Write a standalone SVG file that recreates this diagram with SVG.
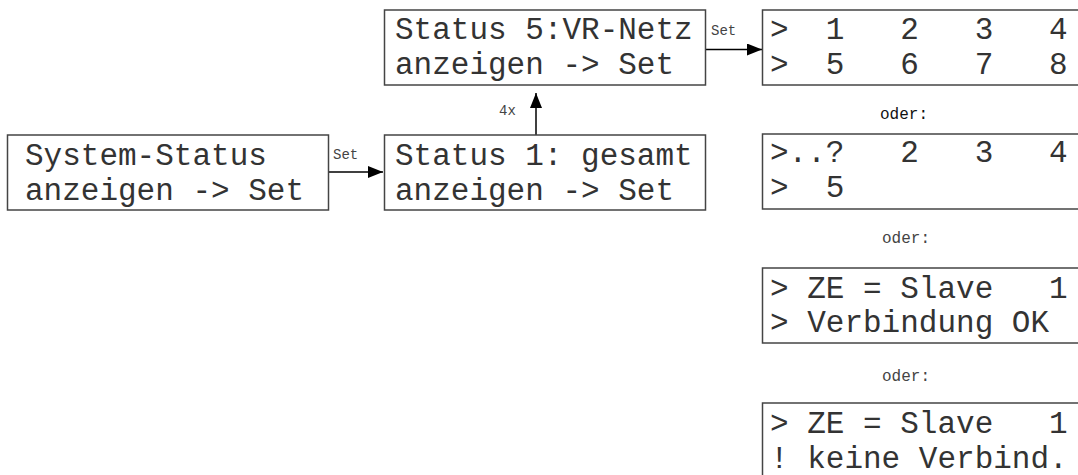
<svg xmlns="http://www.w3.org/2000/svg" width="1078" height="475" viewBox="0 0 1078 475">
<defs>
<marker id="ah" markerUnits="userSpaceOnUse" markerWidth="16" markerHeight="12" refX="15" refY="6" orient="auto">
<polygon points="0,0 15,6 0,12" fill="#000"/>
</marker>
<style>
.box{fill:#fff;stroke:#444;stroke-width:1.5}
.t{font-family:"Liberation Mono","Courier New",monospace;font-size:31px;fill:#333;white-space:pre}
.s{font-family:"Liberation Mono","Courier New",monospace;font-size:14px;fill:#444;white-space:pre}
.o{font-family:"Liberation Mono","Courier New",monospace;font-size:16px;fill:#444;white-space:pre}
.c{stroke:#000;stroke-width:1.5;fill:none;marker-end:url(#ah)}
</style>
</defs>
<rect width="1078" height="475" fill="#fff"/>
<g id="connectors">
<line class="c" x1="328" y1="172" x2="383" y2="172"/>
<text class="s" x="333" y="159">Set</text>
<line class="c" x1="536" y1="135" x2="536" y2="93"/>
<text class="s" x="499" y="115">4x</text>
<line class="c" x1="706" y1="49.5" x2="762" y2="49.5"/>
<text class="s" x="711" y="35">Set</text>
</g>
<g id="n1">
<rect class="box" x="7.5" y="135" width="321" height="75"/>
<text class="t" x="25" y="165" xml:space="preserve">System-Status</text>
<text class="t" x="25" y="200" xml:space="preserve">anzeigen -&gt; Set</text>
</g>
<g id="n2">
<rect class="box" x="384.5" y="135" width="321" height="75"/>
<text class="t" x="395" y="165" xml:space="preserve">Status 1: gesamt</text>
<text class="t" x="395" y="200" xml:space="preserve">anzeigen -&gt; Set</text>
</g>
<g id="n3">
<rect class="box" x="384.5" y="10" width="321" height="75"/>
<text class="t" x="395" y="39" xml:space="preserve">Status 5:VR-Netz</text>
<text class="t" x="395" y="74" xml:space="preserve">anzeigen -&gt; Set</text>
</g>
<g id="n4">
<rect class="box" x="762.5" y="10" width="340" height="75"/>
<text class="t" x="770" y="39" xml:space="preserve">&gt;  1   2   3   4</text>
<text class="t" x="770" y="74" xml:space="preserve">&gt;  5   6   7   8</text>
</g>
<text class="o" x="880" y="119" style="fill:#111">oder:</text>
<g id="n5">
<rect class="box" x="762.5" y="134" width="340" height="75"/>
<text class="t" x="770" y="162" xml:space="preserve">&gt;..?   2   3   4</text>
<text class="t" x="770" y="197" xml:space="preserve">&gt;  5</text>
</g>
<text class="o" x="882" y="243">oder:</text>
<g id="n6">
<rect class="box" x="762.5" y="268" width="340" height="75"/>
<text class="t" x="770" y="298" xml:space="preserve">&gt; ZE = Slave   1</text>
<text class="t" x="770" y="332" xml:space="preserve">&gt; Verbindung OK</text>
</g>
<text class="o" x="882" y="381">oder:</text>
<g id="n7">
<rect class="box" x="762.5" y="403" width="340" height="100"/>
<text class="t" x="770" y="433" xml:space="preserve">&gt; ZE = Slave   1</text>
<text class="t" x="770" y="468" xml:space="preserve">! keine Verbind.</text>
</g>
</svg>
